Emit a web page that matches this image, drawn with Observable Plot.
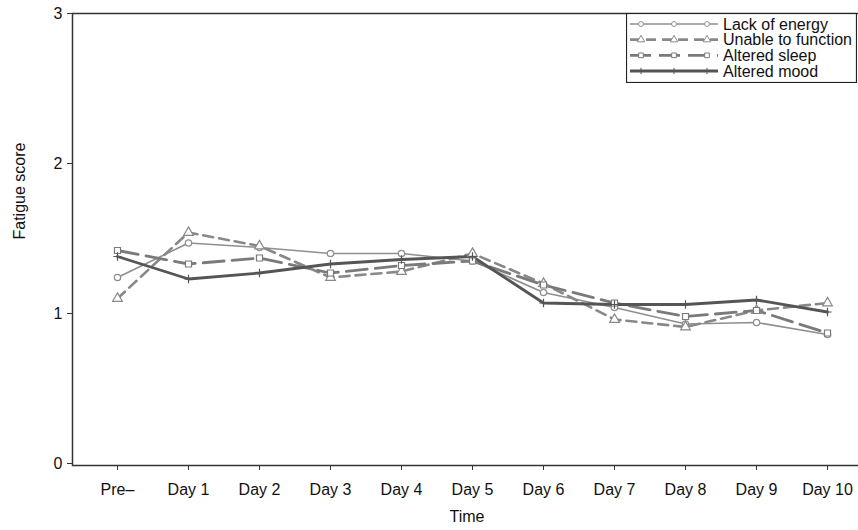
<!DOCTYPE html>
<html>
<head>
<meta charset="utf-8">
<script src="https://cdn.jsdelivr.net/npm/d3@7"></script>
<script src="https://cdn.jsdelivr.net/npm/@observablehq/plot@0.6"></script>
<style>
  html, body { margin: 0; padding: 0; background: #fff; overflow: hidden; }
  #wrap { position: relative; width: 858px; height: 530px; }
  #legend { position: absolute; left: 626px; top: 13px; }
</style>
</head>
<body>
<div id="wrap"></div>
<script>
const times = ["Pre–", "Day 1", "Day 2", "Day 3", "Day 4", "Day 5", "Day 6", "Day 7", "Day 8", "Day 9", "Day 10"];
const lackOfEnergy      = [1.24, 1.47, 1.44, 1.40, 1.40, 1.35, 1.14, 1.04, 0.93, 0.94, 0.86];
const unableToFunction  = [1.10, 1.54, 1.45, 1.24, 1.28, 1.40, 1.20, 0.96, 0.91, 1.02, 1.07];
const alteredSleep      = [1.42, 1.33, 1.37, 1.27, 1.32, 1.35, 1.19, 1.07, 0.98, 1.02, 0.87];
const alteredMood       = [1.38, 1.23, 1.27, 1.33, 1.36, 1.38, 1.07, 1.06, 1.06, 1.09, 1.01];
const seriesNames = ["Lack of energy", "Unable to function", "Altered sleep", "Altered mood"];
const yTicks = [0, 1, 2, 3];

const seriesValues = [lackOfEnergy, unableToFunction, alteredSleep, alteredMood];
const styles = [
  {stroke: "#8f8f8f", strokeWidth: 1.6, dash: null, symbol: "circle", r: 3.2},
  {stroke: "#888888", strokeWidth: 2.6, dash: "10,6", symbol: "triangle", r: 3.6},
  {stroke: "#7a7a7a", strokeWidth: 2.8, dash: "21,8", symbol: "square", r: 3.4},
  {stroke: "#555555", strokeWidth: 2.8, dash: null, symbol: "plus", r: 2.8}
];

const tables = seriesValues.map((vals, i) => vals.map((v, j) => ({time: times[j], value: v, series: seriesNames[i]})));

const FS = 16;
const marks = [
  Plot.frame({stroke: "#333", strokeWidth: 1.5}),
  Plot.axisX({tickSize: 5, tickPadding: 13, stroke: "#333", fill: "#111", fontSize: FS}),
  Plot.axisY({ticks: yTicks, tickSize: 5, tickPadding: 5, tickFormat: d3.format("d"), stroke: "#333", fill: "#111", fontSize: FS}),
  Plot.text(["Time"], {frameAnchor: "bottom", dy: 56, fontSize: FS, fill: "#111"}),
  Plot.text(["Fatigue score"], {frameAnchor: "left", dx: -53, rotate: -90, fontSize: FS, fill: "#111"})
];
tables.forEach((t, i) => {
  const s = styles[i];
  marks.push(Plot.line(t, {x: "time", y: "value", stroke: s.stroke, strokeWidth: s.strokeWidth, strokeDasharray: s.dash}));
});
tables.forEach((t, i) => {
  const s = styles[i];
  marks.push(Plot.dot(t, {x: "time", y: "value", symbol: () => s.symbol, r: s.r, stroke: s.stroke, strokeWidth: 1.2, fill: s.symbol === "plus" ? "none" : "white"}));
});

const chart = Plot.plot({
  width: 858,
  height: 530,
  marginLeft: 72,
  marginTop: 13,
  marginBottom: 65,
  marginRight: -3,
  style: {fontFamily: "'Liberation Sans', Arial, sans-serif", fontSize: FS + "px", background: "white"},
  x: {type: "point", domain: times, range: [113, 831], padding: 0, label: null},
  y: {domain: [0, 3], range: [463, 13], label: null},
  symbol: {type: "identity"},
  marks
});
document.getElementById("wrap").appendChild(chart);

// Legend box (inside plot area, top-right)
const lw = 231, lh = 70;
const leg = d3.select("#wrap").append("svg")
  .attr("id", "legend").attr("width", lw).attr("height", lh)
  .style("font-family", "'Liberation Sans', Arial, sans-serif");
leg.append("rect").attr("x", 0.5).attr("y", 0.5).attr("width", lw - 1).attr("height", lh - 1)
  .attr("fill", "white").attr("stroke", "#222").attr("stroke-width", 1.2);
const rowY = d3.scalePoint().domain(seriesNames).range([11, 58]);
const symGen = {circle: d3.symbolCircle, triangle: d3.symbolTriangle, square: d3.symbolSquare, plus: d3.symbolPlus};
seriesNames.forEach((name, i) => {
  const s = styles[i];
  const y = rowY(name);
  leg.append("line").attr("x1", 4).attr("x2", 92).attr("y1", y).attr("y2", y)
    .attr("stroke", s.stroke).attr("stroke-width", s.strokeWidth)
    .attr("stroke-dasharray", s.dash);
  [15, 48, 81].forEach(x => {
    leg.append("path").attr("transform", `translate(${x},${y})`)
      .attr("d", d3.symbol(symGen[s.symbol], Math.PI * s.r * s.r * 0.6)())
      .attr("fill", s.symbol === "plus" ? "none" : "white")
      .attr("stroke", s.stroke).attr("stroke-width", 1);
  });
  leg.append("text").attr("x", 97).attr("y", y).attr("dy", "0.35em")
    .attr("font-size", FS).attr("fill", "#111").text(name);
});
</script>
</body>
</html>
